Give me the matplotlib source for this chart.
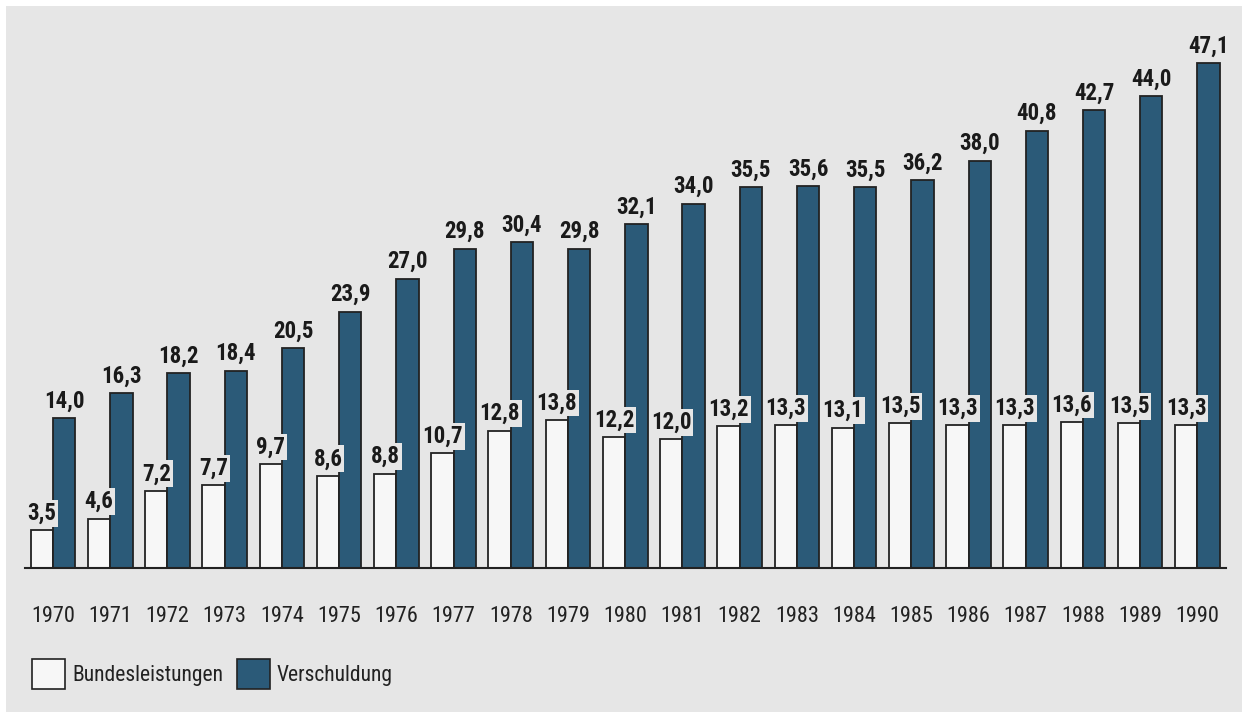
import matplotlib.pyplot as plt
import numpy as np
from matplotlib.patches import Rectangle

years = list(range(1970, 1991))
bundesleistungen = [3.5, 4.6, 7.2, 7.7, 9.7, 8.6, 8.8, 10.7, 12.8, 13.8, 12.2,
                    12.0, 13.2, 13.3, 13.1, 13.5, 13.3, 13.3, 13.6, 13.5, 13.3]
verschuldung = [14.0, 16.3, 18.2, 18.4, 20.5, 23.9, 27.0, 29.8, 30.4, 29.8, 32.1,
                34.0, 35.5, 35.6, 35.5, 36.2, 38.0, 40.8, 42.7, 44.0, 47.1]

plt.rcParams['font.family'] = ['Roboto Condensed', 'Archivo Narrow', 'DejaVu Sans']

bg = '#e6e6e6'
blue = '#2b5a78'
edge = '#222222'

fig = plt.figure(figsize=(12.47, 7.17), dpi=100)
fig.patch.set_facecolor('white')
fig.patches.append(Rectangle((6/1247, 5/717), 1236/1247, 706/717,
                             transform=fig.transFigure, facecolor=bg,
                             edgecolor='none', zorder=-10))

ax = fig.add_axes([25/1247, (717-568)/717, 1201/1247, 536/717])
ax.set_facecolor('none')

x = np.arange(len(years))
w = 0.39
ax.bar(x - w/2, bundesleistungen, w, color='#f7f7f7', edgecolor=edge, linewidth=1.3)
ax.bar(x + w/2, verschuldung, w, color=blue, edgecolor=edge, linewidth=1.3)

def fmt(v):
    return f'{v:.1f}'.replace('.', ',')

for xi, v in zip(x - w/2, bundesleistungen):
    ax.annotate(fmt(v), (xi, v), xytext=(0, 4), textcoords='offset points',
                ha='center', va='bottom', fontsize=16.5, fontweight='bold', color='#1a1a1a',
                bbox=dict(boxstyle='square,pad=0.08', fc=bg, ec='none'), zorder=5)
for xi, v in zip(x + w/2, verschuldung):
    ax.annotate(fmt(v), (xi, v), xytext=(0, 4), textcoords='offset points',
                ha='center', va='bottom', fontsize=16.5, fontweight='bold', color='#1a1a1a')

ax.set_xlim(-0.49, 20.5)
ax.set_ylim(0, 50)
for s in ['top', 'right', 'left']:
    ax.spines[s].set_visible(False)
ax.spines['bottom'].set_linewidth(1.5)
ax.spines['bottom'].set_color('#222222')
ax.set_yticks([])
ax.set_xticks(x)
ax.set_xticklabels([str(y) for y in years], fontsize=16, color='#222222')
ax.tick_params(axis='x', length=0, pad=27)

# legend
for x0, fc, label in [(32, '#f7f7f7', 'Bundesleistungen'), (237, blue, 'Verschuldung')]:
    fig.patches.append(Rectangle((x0/1247, (717-689)/717), 33/1247, 30/717,
                                 transform=fig.transFigure, facecolor=fc,
                                 edgecolor=edge, linewidth=1.2))
    fig.text((x0 + 40)/1247, (717-675)/717, label, fontsize=15.5, va='center',
             ha='left', color='#222222')

fig.savefig('out.png', dpi=100, facecolor=fig.get_facecolor())
